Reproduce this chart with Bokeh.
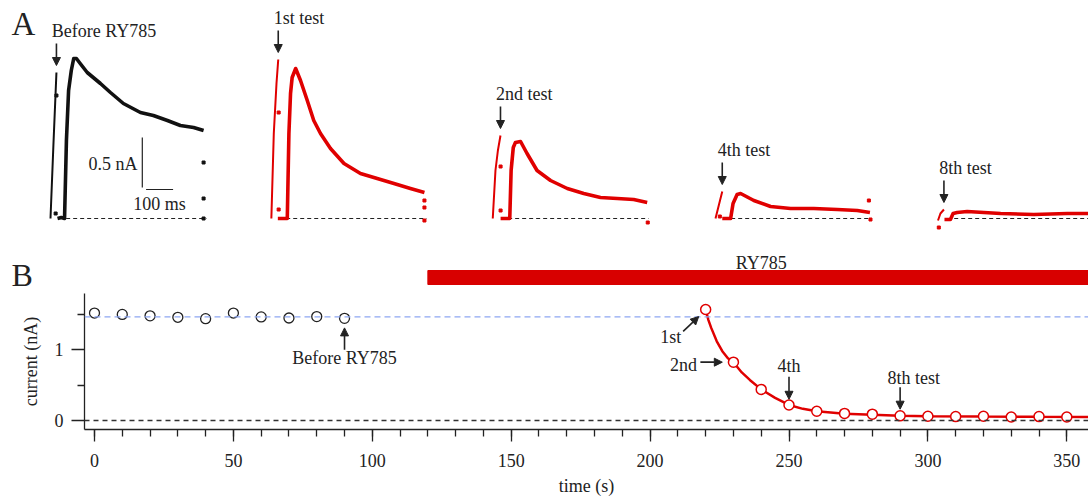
from bokeh.plotting import figure
from bokeh.layouts import column
from bokeh.models import Range1d, Arrow, NormalHead, FixedTicker, Span
from bokeh.core.properties import value
from bokeh.embed import file_html
from bokeh.resources import INLINE

# ------------------------------------------------------------------ data
# Panel A : current traces (time in ms from trace start, current in nA)
before_spike_t = [0, 11, 22]
before_spike_i = [0, 0.75, 1.46]
before_resp_t = [26, 40, 52, 59, 67, 77, 86, 96, 110, 136, 185, 222, 270, 333, 381, 433, 481, 530, 567]
before_resp_i = [0, 0.01, 0, 0.78, 1.28, 1.48, 1.60, 1.60, 1.55, 1.46, 1.35, 1.26, 1.15, 1.06, 1.03, 0.98, 0.93, 0.91, 0.88]
before_dots_t = [22, 19, 567, 567, 567]
before_dots_i = [1.23, 0.05, 0.56, 0.20, 0.0]

test1_spike_t = [3, 12, 22, 28.5]
test1_spike_i = [0, 0.85, 1.35, 1.59]
test1_resp_t = [27, 45, 62, 68, 74, 80, 93, 111, 136, 160, 185, 222, 272, 333, 395, 457, 518, 570]
test1_resp_i = [0, 0, 0, 0.85, 1.25, 1.41, 1.50, 1.38, 1.18, 0.98, 0.85, 0.70, 0.55, 0.45, 0.40, 0.35, 0.30, 0.26]
test1_dots_t = [30, 30, 570, 570, 570]
test1_dots_i = [1.06, 0.09, 0.18, 0.11, -0.02]

test2_spike_t = [1, 11, 20, 29.6]
test2_spike_i = [0, 0.48, 0.68, 0.83]
test2_resp_t = [30, 45, 64, 69, 77, 85, 104, 128, 165, 215, 277, 338, 400, 462, 523, 573]
test2_resp_i = [0, 0, 0, 0.48, 0.71, 0.76, 0.77, 0.65, 0.48, 0.38, 0.30, 0.25, 0.21, 0.20, 0.19, 0.16]
test2_dots_t = [30, 30, 575]
test2_dots_i = [0.52, 0.08, -0.04]

test4_spike_t = [0, 12, 25]
test4_spike_i = [0, 0.13, 0.27]
test4_resp_t = [25, 40, 56, 65, 80, 93, 142, 204, 278, 364, 451, 525, 572]
test4_resp_i = [0, 0, 0, 0.15, 0.24, 0.25, 0.18, 0.12, 0.10, 0.10, 0.09, 0.08, 0.06]
test4_dots_t = [16, 568, 574]
test4_dots_i = [0.02, 0.18, -0.01]

test8_spike_t = [-2, 7, 20]
test8_spike_i = [-0.02, 0.05, 0.09]
test8_resp_t = [22, 35, 44, 54, 69, 106, 230, 353, 477, 570]
test8_resp_i = [-0.01, -0.01, -0.01, 0.05, 0.06, 0.07, 0.05, 0.04, 0.05, 0.05]
test8_dots_t = [1]
test8_dots_i = [-0.09]

trace_labels = ["Before RY785", "1st test", "2nd test", "4th test", "8th test"]
scale_current_nA = 0.5
scale_time_ms = 100
scale_labels = ["0.5 nA", "100 ms"]

# Panel B : peak current versus time
before_t = [0, 10, 20, 30, 40, 50, 60, 70, 80, 90]
before_i = [1.52, 1.50, 1.48, 1.46, 1.44, 1.52, 1.465, 1.45, 1.47, 1.445]
drug_t = [220, 230, 240, 250, 260, 270, 280, 290, 300, 310, 320, 330, 340, 350, 360]
drug_i = [1.57, 0.825, 0.44, 0.22, 0.13, 0.10, 0.09, 0.066, 0.06, 0.055, 0.06, 0.05, 0.055, 0.05, 0.05]
fit_t = [220, 221, 222, 224, 226, 228, 230, 233, 236, 240, 245, 250, 255, 260, 270, 280, 290, 300, 320, 340, 360]
fit_i = [1.57, 1.42, 1.31, 1.12, 0.98, 0.88, 0.825, 0.68, 0.57, 0.44, 0.32, 0.22, 0.165, 0.13, 0.095, 0.08, 0.068, 0.06, 0.055, 0.052, 0.05]
control_level = 1.467
drug_start, drug_end = 120, 360
drug_label = "RY785"
x_ticks = [0, 50, 100, 150, 200, 250, 300, 350]
x_minor = list(range(0, 361, 10))
y_ticks = [0, 1]
y_minor = [0.5, 1.5]
b_labels = ["Before RY785", "1st", "2nd", "4th", "8th test"]

# ------------------------------------------------------------------ style
FONT = "Liberation Serif"
RED = "#e00000"
BAR = "#d80000"
INK = "#222222"
FS = "18px"
W = 1088
HA = 292
HB = 211
PX_PER_MS = 0.27
PX_PER_S = 2.778

def txt(p, x, y, s, align="left", base="middle", size=FS, **kw):
    p.text(x=[x], y=[y], text=[s], text_font=value(FONT), text_font_size=value(size),
           text_color=INK, text_align=align, text_baseline=base, **kw)

def arrow(p, x0, y0, x1, y1, **kw):
    p.add_layout(Arrow(x_start=x0, y_start=y0, x_end=x1, y_end=y1, line_color=INK, line_width=1.6,
                       end=NormalHead(size=8, fill_color=INK, line_color=INK, line_width=1), **kw))

# ------------------------------------------------------------------ panel A
ms0 = -50 / PX_PER_MS
pa = figure(width=W, height=HA, x_range=Range1d(ms0, ms0 + W / PX_PER_MS),
            y_range=Range1d((218 - HA) / 100, 2.18), x_axis_type=None, y_axis_type=None,
            output_backend="svg", toolbar_location=None, min_border=0)
pa.outline_line_color = None
pa.frame_align = False
pa.extra_x_ranges = {"time": Range1d(-94 / PX_PER_S, (W - 94) / PX_PER_S)}

trace_offsets = [0, 815, 1637, 2463, 3289]
traces = [
    (before_spike_t, before_spike_i, before_resp_t, before_resp_i, before_dots_t, before_dots_i, "#111111"),
    (test1_spike_t, test1_spike_i, test1_resp_t, test1_resp_i, test1_dots_t, test1_dots_i, RED),
    (test2_spike_t, test2_spike_i, test2_resp_t, test2_resp_i, test2_dots_t, test2_dots_i, RED),
    (test4_spike_t, test4_spike_i, test4_resp_t, test4_resp_i, test4_dots_t, test4_dots_i, RED),
    (test8_spike_t, test8_spike_i, test8_resp_t, test8_resp_i, test8_dots_t, test8_dots_i, RED),
]
for k, (st, si, rt, ri, dt, di, col) in enumerate(traces):
    off = trace_offsets[k]
    pa.line([off + 58, off + 578], [0, 0], line_color=INK, line_width=1.2, line_dash="4 3")
    pa.line([off + v for v in st], si, line_color=col, line_width=2)
    pa.line([off + v for v in rt], ri, line_color=col, line_width=3.6, line_join="round")
    pa.scatter([off + v for v in dt], di, marker="square", size=3, color=col)
    ax = off + st[-1]
    pk = si[-1]
    arrow(pa, ax, pk + 0.29, ax, pk + 0.07)
    txt(pa, ax - 17, pk + 0.42, trace_labels[k])

# scale bar
sb_t = 340
pa.line([sb_t, sb_t], [0.31, 0.31 + scale_current_nA], line_color=INK, line_width=1.2)
pa.line([sb_t + 14, sb_t + 14 + scale_time_ms], [0.29, 0.29], line_color=INK, line_width=1.2)
txt(pa, sb_t - 18, 0.55, scale_labels[0], align="right")
txt(pa, sb_t + 14 + scale_time_ms / 2, 0.15, scale_labels[1], align="center")

# drug bar
pa.quad(left=[drug_start], right=[drug_end], top=[-0.52], bottom=[-0.66], x_range_name="time",
        fill_color=BAR, line_color=BAR)
txt(pa, (drug_start + drug_end) / 2, -0.445, drug_label, align="center", x_range_name="time")

# panel letters
txt(pa, ms0 + 11 / PX_PER_MS, 1.945, "A", size="33px")
txt(pa, ms0 + 11 / PX_PER_MS, -0.56, "B", size="32px")

# ------------------------------------------------------------------ panel B
pb = figure(width=W, height=HB,
            x_range=Range1d(-10 / PX_PER_S, (W - 94) / PX_PER_S),
            y_range=Range1d(-9 / 70.7, 127 / 70.7),
            output_backend="svg", toolbar_location=None,
            min_border_left=84, min_border_right=0, min_border_top=1, min_border_bottom=74)
pb.outline_line_color = None
pb.frame_align = False
pb.xgrid.visible = False
pb.ygrid.visible = False
pb.xaxis.ticker = FixedTicker(ticks=x_ticks, minor_ticks=x_minor)
pb.yaxis.ticker = FixedTicker(ticks=y_ticks, minor_ticks=y_minor)
pb.xaxis.axis_label = "time (s)"
pb.yaxis.axis_label = "current (nA)"
for a in (pb.xaxis[0], pb.yaxis[0]):
    a.axis_line_color = INK
    a.axis_line_width = 1.3
    a.major_tick_line_color = INK
    a.major_tick_line_width = 1.3
    a.minor_tick_line_color = INK
    a.minor_tick_line_width = 1.3
    a.major_tick_in = 0
    a.minor_tick_in = 0
    a.minor_tick_out = 7
    a.major_label_text_font = FONT
    a.major_label_text_font_size = FS
    a.major_label_text_color = INK
    a.axis_label_text_font = FONT
    a.axis_label_text_font_size = FS
    a.axis_label_text_font_style = "normal"
    a.axis_label_text_color = INK
pb.xaxis.major_tick_out = 12
pb.yaxis.major_tick_out = 13
pb.xaxis.major_label_standoff = 12
pb.yaxis.major_label_standoff = 8
pb.xaxis.axis_label_standoff = 6
pb.yaxis.axis_label_standoff = 11

pb.add_layout(Span(location=control_level, dimension="width", line_color="#8da6f2",
                   line_width=1.2, line_dash="6 4"))
pb.add_layout(Span(location=0, dimension="width", line_color="#333333",
                   line_width=1.4, line_dash="5 4"))

pb.scatter(before_t, before_i, size=10, marker="circle", fill_color="white",
           line_color=INK, line_width=1.3)
pb.line(fit_t, fit_i, line_color=RED, line_width=2.5)
pb.scatter(drug_t, drug_i, size=10, marker="circle", fill_color="white",
           line_color=RED, line_width=1.5)

# annotations in panel B
txt(pb, 90, 0.89, b_labels[0], align="center")
arrow(pb, 90, 1.0, 90, 1.31)
txt(pb, 211.2, 1.18, b_labels[1], align="right")
arrow(pb, 211.9, 1.26, 217.5, 1.47)
txt(pb, 216.9, 0.79, b_labels[2], align="right")
arrow(pb, 218.1, 0.825, 226.0, 0.825)
txt(pb, 250, 0.77, b_labels[3], align="center")
arrow(pb, 250, 0.62, 250, 0.30)
txt(pb, 285.5, 0.60, b_labels[4], align="left")
arrow(pb, 290, 0.47, 290, 0.16)

layout = column(pa, pb, spacing=0)
open("out.html", "w").write(file_html(layout, INLINE))
